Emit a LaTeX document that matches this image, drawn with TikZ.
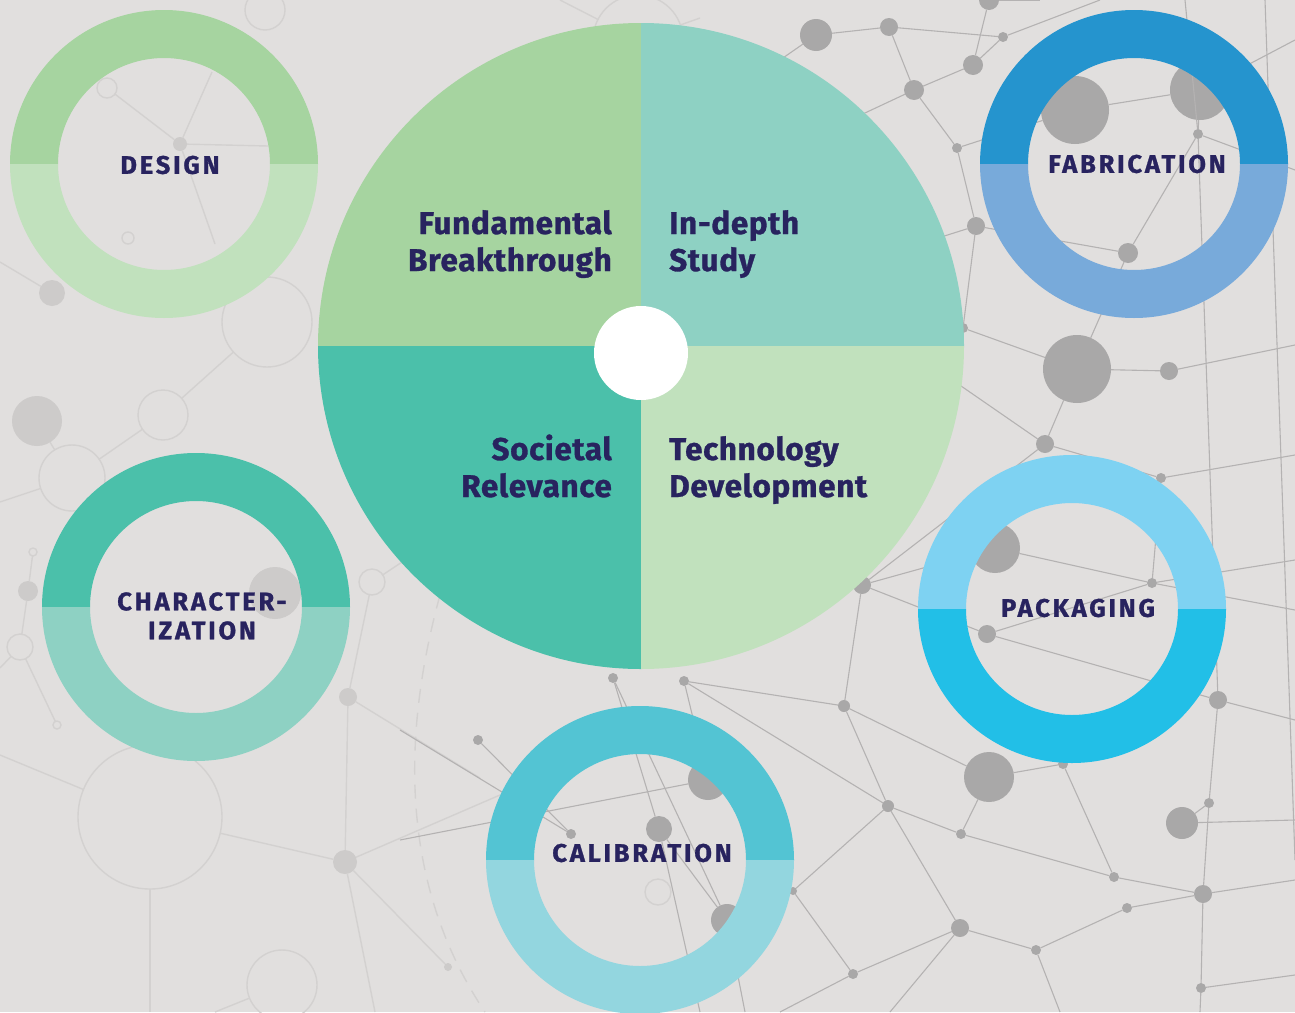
\documentclass[tikz,border=0pt]{standalone}
\usepackage{fontspec}
\setmainfont{Fira Sans}
\newfontfamily\quadfont[LetterSpace=2,FakeBold=1]{Fira Sans}
\newfontfamily\ringfont[LetterSpace=11,FakeBold=1]{Fira Sans}
\definecolor{paper}{HTML}{E1DFDE}
\definecolor{ink}{HTML}{28235F}
\definecolor{netgray}{HTML}{B4B2B2}
\definecolor{dotgray}{HTML}{A9A8A8}
\definecolor{fadegray}{HTML}{D3D1D0}
\definecolor{fadedot}{HTML}{CDCBCA}
\definecolor{Leaf}{HTML}{A6D4A0}
\definecolor{Mint}{HTML}{8ED1C3}
\definecolor{Sea}{HTML}{4BC0AA}
\definecolor{Sage}{HTML}{C1E1BD}
\definecolor{FabTop}{HTML}{2594CE}
\definecolor{FabBottom}{HTML}{78AADA}
\definecolor{PackTop}{HTML}{7ED2F2}
\definecolor{PackBottom}{HTML}{22BFE7}
\definecolor{CalTop}{HTML}{53C4D3}
\definecolor{CalBottom}{HTML}{93D6DF}

\begin{document}
\begin{tikzpicture}[
  x=1pt, y=-1pt,
  netline/.style={draw=netgray, line width=1.1pt},
  fadeline/.style={draw=fadegray, line width=1.4pt},
  netdot/.style={circle, fill=dotgray, inner sep=0pt, outer sep=0pt},
  fadedot/.style={circle, fill=fadedot, inner sep=0pt, outer sep=0pt},
  fadering/.style={circle, draw=fadegray, line width=1.4pt, inner sep=0pt, outer sep=0pt},
  quadlabel/.style={font=\quadfont\bfseries\fontsize{31.5}{37}\selectfont, text=ink, inner sep=0pt},
  ringlabel/.style={font=\ringfont\bfseries\fontsize{25.5}{29}\selectfont, text=ink, inner sep=0pt, align=center}
]

\useasboundingbox (0,0) rectangle (1295,1012);
\fill[paper] (0,0) rectangle (1295,1012);

% loose ends of the network at the page border (h: hidden under the quarters)
\foreach \n/\x/\y in {b1/780/60, b2/1100/0, b3/1295/40, b4/1295/170, b5/1295/345, b6/1295/455,
  b7/1295/560, b8/1295/720, b9/1295/880, b10/1295/975, b11/1200/1012, b12/1060/1012,
  b13/780/1012, b14/700/1012, b15/745/1012, b16/1295/820, b17/1185/0, b18/1265/0,
  b19/1295/860, b20/1040/0, b23/400/730, b24/400/840, b25/1295/610, b26/890/1012,
  h1/900/250, h2/930/420, h3/850/120, h4/880/330,
  c1/0/502, c2/0/668, c3/480/778, c4/0/755, c5/500/795, c6/375/1012, c7/150/1012,
  c8/215/1012, c9/212/72, c10/268/146, c11/215/244, c12/0/262, c13/405/560, c14/560/0, c15/700/18}
  \coordinate (\n) at (\x,\y);

% faint part of the network
\foreach \n/\x/\y/\d in {f1/52/293/26, f2/37/421/50, f3/28/591/20, f4/275/593/52, f5/348/697/18,
  f6/345/862/24, f7/448/967/8, f8/180/144/14}
  \node[fadedot, minimum size=\d pt] (\n) at (\x,\y) {};
\foreach \n/\x/\y/\d in {g1/265/10/40, g2/163/415/50, g3/72/478/66, g4/267/322/90, g5/372/582/26,
  g6/20/647/26, g7/33/552/8, g8/57/725/8, g9/150/817/144, g10/282/985/70, g11/638/40/90,
  g12/128/238/12, g13/107/88/20, g14/658/892/26}
  \node[fadering, minimum size=\d pt] (\n) at (\x,\y) {};
\foreach \a/\b in {c1/g3, g3/g2, g2/g4, g7/f3, f3/g6, g6/c2, g6/g8, g5/f5, f5/f6, f5/c3, c4/g9,
  g9/f6, f6/c5, f6/c6, g9/c7, g10/c8, g13/f8, f8/c9, f8/c10, f8/c11, f1/c12, g5/c13, g11/c14,
  g11/c15, f2/g3, f7/f6}
  \draw[fadeline] (\a) -- (\b);
\draw[draw=fadegray, line width=1.4pt, dash pattern=on 14pt off 10pt]
  (440,595) .. controls (395,760) and (410,900) .. (485,1012);

% dark part of the network
\foreach \n/\x/\y/\d in {n1/816/35/32, n2/889/27/18, n3/989/0/20, n4/1003/37/10, n5/973/65/20,
  n6/914/90/20, n7/957/148/10, n8/976/226/18, n9/1075/110/68, n10/1200/90/60, n11/1198/134/10,
  n12/1128/253/20, n13/963/328/10, n14/1077/369/68, n15/1169/371/18, n16/1045/444/18,
  n17/1161/478/10, n18/862/585/18, n19/995/548/50, n20/1152/583/10, n21/987/634/18,
  n22/1218/700/18, n23/844/706/12, n24/1063/764/10, n25/989/777/50, n26/1209/803/10,
  n27/1182/823/32, n28/888/806/12, n29/961/834/10, n30/1114/877/10, n31/1203/894/18,
  n32/1127/908/10, n33/960/928/18, n34/1036/950/10, n35/853/974/10, n36/1201/988/10,
  n37/793/891/8, n38/613/678/10, n39/684/681/10, n40/478/740/10, n41/571/834/10,
  n42/659/829/26, n43/708/780/40, n44/727/920/32}
  \node[netdot, minimum size=\d pt] (\n) at (\x,\y) {};
\foreach \a/\b in {b1/n1, n1/n2, n2/n4, n2/n6, n6/n5, n5/n3, n5/n4, n4/b2, n3/b20, n6/n7, n7/n8,
  n7/n9, n8/n12, n12/n11, n11/n10, n9/n10, n11/b17, n10/b3, n11/b4, n8/n13, n13/n14, n14/n15,
  n15/b5, n14/n16, n12/n14, n16/n17, n17/b6, n16/n18, n17/n20, n18/n19, n18/n21, n19/n20,
  n21/n20, n20/b7, n21/n22, n22/b8, n11/n22, n18/n23, n23/n28, n28/n29, n28/n33, n28/n37,
  n37/n35, n35/n33, n33/n34, n34/n32, n32/n31, n29/n30, n30/n31, n31/b9, n25/n24, n24/n30,
  n22/n26, n26/n31, n31/n36, n36/b10, n36/b11, n34/b12, n35/b13, n26/n27, n27/b16, n23/n39,
  n39/n43, n38/n42, n42/n44, n44/b15, n42/b14, n40/n41, n25/n29, b18/b19, n20/b25, b23/n41,
  b24/n43, n33/b26, n23/n25, n39/n28, n38/n44, h1/n8, h2/n13, h3/n6, h4/n16}
  \draw[netline] (\a) -- (\b);

% the four quarters round the hub
\coordinate (core) at (641,346);
\fill[Leaf] (core) -- ++(-323,0) arc[start angle=180, end angle=270, radius=323] -- cycle;
\fill[Mint] (core) -- ++(323,0) arc[start angle=0, end angle=-90, radius=323] -- cycle;
\fill[Sea]  (core) -- ++(-323,0) arc[start angle=180, end angle=90, radius=323] -- cycle;
\fill[Sage] (core) -- ++(323,0) arc[start angle=0, end angle=90, radius=323] -- cycle;
\node[circle, fill=white, minimum size=94pt, inner sep=0pt] (hub) at (641,353) {};

\node[quadlabel, align=right, anchor=base east] (fundamental) at (612,271) {Fundamental\\Breakthrough};
\node[quadlabel, align=left, anchor=base west] (indepth) at (669,271) {In-depth\\Study};
\node[quadlabel, align=right, anchor=base east] (societal) at (612,497) {Societal\\Relevance};
\node[quadlabel, align=left, anchor=base west] (technology) at (669,497) {Technology\\Development};

% rings: upper half, lower half
\foreach \cx/\cy/\top/\bottom in {164/164/Leaf/Sage, 1134/164/FabTop/FabBottom,
  196/607/Sea/Mint, 1072/609/PackTop/PackBottom, 640/860/CalTop/CalBottom}
{
  \fill[\top] (\cx-154,\cy) arc[start angle=180, end angle=360, radius=154]
    -- ++(-48,0) arc[start angle=360, end angle=180, radius=106] -- cycle;
  \fill[\bottom] (\cx-154,\cy) arc[start angle=180, end angle=0, radius=154]
    -- ++(-48,0) arc[start angle=0, end angle=180, radius=106] -- cycle;
}

\node[ringlabel] (design) at (170,165) {DESIGN};
\node[ringlabel] (fabrication) at (1137,164) {FABRICATION};
\node[ringlabel] (characterization) at (202,616) {CHARACTER-\\IZATION};
\node[ringlabel] (packaging) at (1078,608) {PACKAGING};
\node[ringlabel] (calibration) at (642,853) {CALIBRATION};
\end{tikzpicture}
\end{document}
